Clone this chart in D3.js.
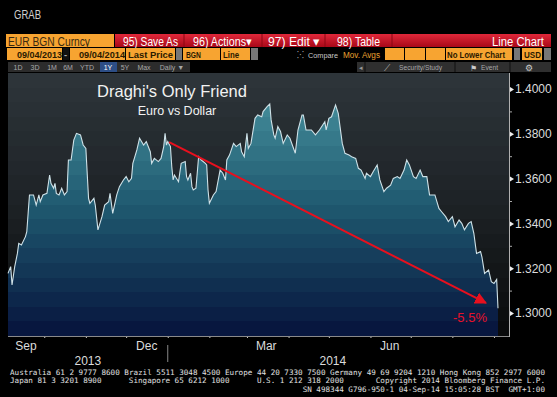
<!DOCTYPE html>
<html>
<head>
<meta charset="utf-8">
<script src="https://cdn.jsdelivr.net/npm/d3@7"></script>
<style>
  body { margin: 0; background: #000; }
  svg { display: block; font-family: "Liberation Sans", Arial, sans-serif; }
  .mono { font-family: "DejaVu Sans Mono", "Liberation Mono", monospace; }
</style>
</head>
<body>
<div id="chart"></div>
<script>
// EUR/USD (BGN)
const dates = [
  "2013-09-04","2013-09-06","2013-09-07","2013-09-09","2013-09-11","2013-09-12","2013-09-14","2013-09-17",
  "2013-09-18","2013-09-19","2013-09-20","2013-09-23","2013-09-25","2013-09-27","2013-09-28","2013-09-30",
  "2013-10-03","2013-10-05","2013-10-06","2013-10-08","2013-10-09","2013-10-10","2013-10-12","2013-10-14",
  "2013-10-16","2013-10-18","2013-10-19","2013-10-21","2013-10-23","2013-10-25","2013-10-28","2013-10-30",
  "2013-11-01","2013-11-03","2013-11-04","2013-11-07","2013-11-08","2013-11-10","2013-11-13","2013-11-15",
  "2013-11-18","2013-11-19","2013-11-21","2013-11-24","2013-11-26","2013-11-29","2013-12-01","2013-12-03",
  "2013-12-05","2013-12-06","2013-12-09","2013-12-11","2013-12-14","2013-12-16","2013-12-19","2013-12-20",
  "2013-12-22","2013-12-25","2013-12-27","2013-12-29","2013-12-30","2013-12-31","2014-01-01","2014-01-03",
  "2014-01-04","2014-01-05","2014-01-06","2014-01-09","2014-01-11","2014-01-14","2014-01-15","2014-01-16",
  "2014-01-18","2014-01-19","2014-01-20","2014-01-22","2014-01-24","2014-01-26","2014-01-29","2014-01-30",
  "2014-01-31","2014-02-01","2014-02-04","2014-02-06","2014-02-09","2014-02-11","2014-02-13","2014-02-14",
  "2014-02-16","2014-02-19","2014-02-21","2014-02-24","2014-02-25","2014-02-27","2014-03-01","2014-03-02",
  "2014-03-04","2014-03-07","2014-03-09","2014-03-12","2014-03-13","2014-03-16","2014-03-18","2014-03-19",
  "2014-03-21","2014-03-22","2014-03-24","2014-03-26","2014-03-28","2014-03-31","2014-04-02","2014-04-06",
  "2014-04-08","2014-04-11","2014-04-12","2014-04-14","2014-04-18","2014-04-21","2014-04-24","2014-04-28",
  "2014-04-29","2014-05-01","2014-05-03","2014-05-06","2014-05-08","2014-05-11","2014-05-13","2014-05-16",
  "2014-05-18","2014-05-21","2014-05-23","2014-05-25","2014-05-28","2014-05-29","2014-06-01","2014-06-03",
  "2014-06-06","2014-06-08","2014-06-11","2014-06-13","2014-06-16","2014-06-18","2014-06-21","2014-06-23",
  "2014-06-26","2014-06-28","2014-06-30","2014-07-03","2014-07-05","2014-07-08","2014-07-10","2014-07-13",
  "2014-07-15","2014-07-19","2014-07-22","2014-07-24","2014-07-27","2014-07-29","2014-08-01","2014-08-03",
  "2014-08-06","2014-08-08","2014-08-10","2014-08-13","2014-08-15","2014-08-17","2014-08-19","2014-08-22",
  "2014-08-23","2014-08-25","2014-08-28","2014-08-30","2014-09-01","2014-09-03","2014-09-04"
];
const rates = [
  1.3177,1.3207,1.3125,1.3207,1.3266,1.3311,1.3304,1.3341,
  1.3363,1.3445,1.3527,1.3527,1.3482,1.3527,1.3497,1.3527,
  1.3534,1.3616,1.3579,1.3557,1.3579,1.3534,1.3527,1.3557,
  1.3527,1.3542,1.3683,1.3683,1.3772,1.3802,1.3795,1.3750,
  1.3735,1.3512,1.3490,1.3512,1.3482,1.3371,1.3430,1.3482,
  1.3497,1.3534,1.3445,1.3527,1.3564,1.3594,1.3609,1.3586,
  1.3601,1.3668,1.3728,1.3780,1.3750,1.3765,1.3720,1.3668,
  1.3690,1.3676,1.3690,1.3743,1.3802,1.3750,1.3765,1.3743,
  1.3653,1.3594,1.3616,1.3586,1.3668,1.3676,1.3609,1.3594,
  1.3624,1.3564,1.3549,1.3557,1.3698,1.3683,1.3668,1.3661,
  1.3549,1.3490,1.3527,1.3542,1.3638,1.3624,1.3594,1.3683,
  1.3705,1.3757,1.3743,1.3757,1.3720,1.3698,1.3802,1.3735,
  1.3757,1.3869,1.3884,1.3876,1.3899,1.3921,1.3933,1.3862,
  1.3795,1.3780,1.3832,1.3810,1.3757,1.3795,1.3780,1.3713,
  1.3817,1.3884,1.3884,1.3817,1.3817,1.3795,1.3817,1.3854,
  1.3817,1.3869,1.3876,1.3929,1.3891,1.3757,1.3713,1.3705,
  1.3698,1.3690,1.3646,1.3638,1.3601,1.3624,1.3609,1.3631,
  1.3661,1.3594,1.3542,1.3557,1.3571,1.3601,1.3609,1.3601,
  1.3638,1.3683,1.3661,1.3609,1.3601,1.3638,1.3609,1.3609,
  1.3527,1.3527,1.3467,1.3452,1.3430,1.3408,1.3430,1.3385,
  1.3415,1.3400,1.3371,1.3400,1.3408,1.3356,1.3266,1.3274,
  1.3251,1.3177,1.3192,1.3140,1.3132,1.3150,1.3021
];
const yTicks = [1.30, 1.32, 1.34, 1.36, 1.38, 1.40];
const yMinor = [1.31, 1.33, 1.35, 1.37, 1.39];
const monthLabels = ["2013-09-17", "2013-12-16", "2014-03-15", "2014-06-15"];
const years = [["2013", "2013-09-04", "2014-01-01"], ["2014", "2014-01-01", "2014-09-04"]];
const trendFrom = ["2014-01-02", 1.3763];
const trendTo = ["2014-08-26", 1.3045];
const trendLabel = "-5.5%";

const W = 557, H = 397;
const plotL = 8, plotR = 509, plotT = 73, plotB = 336;
const parse = d3.timeParse("%Y-%m-%d");
const data = dates.map((d, i) => ({ date: parse(d), v: rates[i] }));

const svg = d3.select("#chart").append("svg")
  .attr("width", W).attr("height", H);
svg.append("rect").attr("width", W).attr("height", H).attr("fill", "#000");

// text helper: squeezes the label into the width it has on the terminal
function label(x, y, t, size, fill, len, opts = {}) {
  const el = svg.append("text").attr("x", x).attr("y", y).attr("font-size", size).attr("fill", fill).text(t);
  if (len) el.attr("textLength", len).attr("lengthAdjust", "spacingAndGlyphs");
  if (opts.anchor) el.attr("text-anchor", opts.anchor);
  if (opts.bold) el.attr("font-weight", "bold");
  if (opts.cls) el.attr("class", opts.cls);
  return el;
}

// ---- toolbar ----
label(14, 19, "GRAB", 12, "#d0d0d0", 27);

const defs = svg.append("defs");
const red = defs.append("linearGradient").attr("id", "redbar")
  .attr("x1", 0).attr("y1", 0).attr("x2", 0).attr("y2", 1);
red.append("stop").attr("offset", 0).attr("stop-color", "#e0283a");
red.append("stop").attr("offset", 1).attr("stop-color", "#a80818");

svg.append("rect").attr("x", 6).attr("y", 34).attr("width", 108).attr("height", 13).attr("fill", "#f7a431");
label(8, 45.5, "EUR BGN Curncy", 12.5, "#3a2a10", 82);
svg.append("rect").attr("x", 115).attr("y", 34).attr("width", 436).attr("height", 13).attr("fill", "url(#redbar)");
[184, 262, 325, 392].forEach(x => svg.append("line").attr("x1", x).attr("x2", x).attr("y1", 34).attr("y2", 47)
  .attr("stroke", "#8a0612"));
const redItems = [["95) Save As", 123, 55], ["96) Actions\u25BE", 193, 59], ["97) Edit \u25BE", 268, 52], ["98) Table", 337, 43]];
redItems.forEach(([t, x, w]) => label(x, 45.5, t, 12.5, "#fff", w));
label(492, 45.5, "Line Chart", 12.5, "#fff", 52);

const row2 = [
  [7, 55, "#f7a431", "09/04/2013", 17, 45], [63, 6, "#111", "-", 64, 0], [70, 55, "#f7a431", "09/04/2014", 79, 46],
  [126, 49, "#f7a431", "Last Price", 128, 45], [176, 6, "#777", "", 0, 0], [183, 37, "#f7a431", "BGN", 186, 15],
  [221, 29, "#f7a431", "Line", 223, 16], [251, 7, "#777", "", 0, 0], [385, 19, "#f7a431", "", 0, 0],
  [405, 20, "#f7a431", "", 0, 0], [426, 19, "#f7a431", "", 0, 0], [446, 66, "#f7a431", "No Lower Chart", 447, 58],
  [514, 6, "#777", "", 0, 0], [522, 20, "#f7a431", "USD", 524, 17], [544, 7, "#777", "", 0, 0]
];
row2.forEach(([x, w, c, t, tx, tw]) => {
  svg.append("rect").attr("x", x).attr("y", 48).attr("width", w).attr("height", 12).attr("fill", c);
  if (t) label(tx, 57.5, t, 9.5, c === "#111" ? "#aaa" : "#2a1a00", tw, { bold: true });
});
label(297, 58, "\u2059", 9.5, "#c8c8c8", 7);
label(308, 58, "Compare", 8, "#c8c8c8", 30);
label(343, 58, "Mov. Avgs", 8.5, "#e8a030", 37);

svg.append("rect").attr("x", 8).attr("y", 62).attr("width", 182).attr("height", 10).attr("fill", "#2c2c2c");
const buttons = [["1D", 18], ["3D", 35], ["1M", 52], ["6M", 68], ["YTD", 87], ["1Y", 108], ["5Y", 125], ["Max", 144], ["Daily \u25BC", 172]];
svg.append("rect").attr("x", 100).attr("y", 62).attr("width", 17).attr("height", 10).attr("fill", "#2d4e86");
buttons.forEach(([t, x]) => label(x, 70, t, 7, t === "1Y" ? "#fff" : "#a8a8a8", 0, { anchor: "middle" }));
svg.append("rect").attr("x", 357).attr("y", 62).attr("width", 194).attr("height", 10).attr("fill", "#2f2f2f");
[365, 455, 510].forEach(x => svg.append("line").attr("x1", x).attr("x2", x).attr("y1", 62).attr("y2", 72)
  .attr("stroke", "#111"));
label(361, 70, "\u25C2", 7, "#999", 0, { anchor: "middle" });
label(384, 70.5, "\u27CB", 9, "#bbb");
label(399, 70, "Security/Study", 7, "#a8a8a8", 43);
label(470, 70.5, "\u2691", 8, "#ccc");
label(481, 70, "Event", 7, "#a8a8a8", 17);
label(529, 70.5, "\u2699", 9, "#ccc", 0, { anchor: "middle" });

// ---- scales ----
const x = d3.scaleTime().domain([parse("2013-09-04"), parse("2014-09-04")]).range([plotL, 498]);
const y = d3.scaleLinear().domain([1.30, 1.40]).range([313, 89]);

// banded gradients (absolute y, like the terminal)
function banded(id, colors, n) {
  const g = defs.append("linearGradient").attr("id", id).attr("gradientUnits", "userSpaceOnUse")
    .attr("x1", 0).attr("x2", 0).attr("y1", plotT).attr("y2", plotB);
  const c = d3.scaleLinear().domain(colors.map((_, i) => i / (colors.length - 1))).range(colors);
  for (let i = 0; i < n; i++) {
    const col = c(i / (n - 1));
    g.append("stop").attr("offset", i / n).attr("stop-color", col);
    g.append("stop").attr("offset", (i + 1) / n).attr("stop-color", col);
  }
}
banded("bg", ["#2d3439", "#1d2226", "#0a0b0c"], 18);
banded("fill", ["#4a95a1", "#1f5a70", "#08173f"], 18);

svg.append("rect").attr("x", plotL).attr("y", plotT).attr("width", plotR - plotL).attr("height", plotB - plotT)
  .attr("fill", "url(#bg)");

svg.append("path").datum(data)
  .attr("fill", "url(#fill)")
  .attr("d", d3.area().x(d => x(d.date)).y0(plotB).y1(d => y(d.v)));
svg.append("path").datum(data)
  .attr("fill", "none").attr("stroke", "#cfe2e8").attr("stroke-width", 1.1)
  .attr("d", d3.line().x(d => x(d.date)).y(d => y(d.v)));

// ---- axes ----
const yAxis = svg.append("g").attr("transform", `translate(${plotR},0)`)
  .call(d3.axisRight(y).tickValues(yTicks).tickSize(0).tickPadding(6).tickFormat(d3.format(".4f")));
yAxis.select(".domain").remove();
yAxis.selectAll("text").attr("fill", "#dcdcdc").attr("font-size", 12).attr("font-family", "Liberation Sans, Arial");
yAxis.selectAll(".tick").append("path").attr("d", "M1,-2.5L5,0L1,2.5Z").attr("fill", "#eee");
const yMin = svg.append("g").attr("transform", `translate(${plotR},0)`)
  .call(d3.axisRight(y).tickValues(yMinor).tickSize(3).tickFormat(""));
yMin.select(".domain").remove();
yMin.selectAll("line").attr("stroke", "#aaa");
svg.append("line").attr("x1", plotR + 0.5).attr("x2", plotR + 0.5).attr("y1", plotT).attr("y2", plotB + 1)
  .attr("stroke", "#b0b0b0");

const xAxis = svg.append("g").attr("transform", `translate(0,${plotB})`)
  .call(d3.axisBottom(x).ticks(d3.timeMonth.every(1)).tickSize(2).tickFormat(""));
xAxis.select(".domain").remove();
xAxis.selectAll("line").attr("stroke", "#ccc");
svg.append("line").attr("x1", plotL).attr("x2", plotR).attr("y1", plotB + 0.5).attr("y2", plotB + 0.5)
  .attr("stroke", "#8a8a8a");

const xLab = svg.append("g").attr("transform", `translate(0,${plotB})`)
  .call(d3.axisBottom(x).tickValues(monthLabels.map(parse)).tickSize(0).tickPadding(5)
    .tickFormat(d3.timeFormat("%b")));
xLab.select(".domain").remove();
xLab.selectAll("text").attr("fill", "#dcdcdc").attr("font-size", 12).attr("font-family", "Liberation Sans, Arial");

years.forEach(([t, a, b]) => {
  label((x(parse(a)) + x(parse(b))) / 2, 364.5, t, 12, "#dcdcdc", 0, { anchor: "middle" });
});
svg.append("line").attr("x1", x(parse("2014-01-01"))).attr("x2", x(parse("2014-01-01")))
  .attr("y1", 345).attr("y2", 362).attr("stroke", "#888");

// ---- annotations ----
label(172, 97, "Draghi's Only Friend", 16.5, "#f2f2f2", 0, { anchor: "middle" });
label(177, 115, "Euro vs Dollar", 12.5, "#f2f2f2", 0, { anchor: "middle" });

defs.append("marker").attr("id", "head").attr("viewBox", "0 0 10 10").attr("refX", 9).attr("refY", 5)
  .attr("markerWidth", 6).attr("markerHeight", 6).attr("orient", "auto").attr("markerUnits", "strokeWidth")
  .append("path").attr("d", "M0,0L10,5L0,10Z").attr("fill", "#e8101e");
svg.append("line")
  .attr("x1", x(parse(trendFrom[0]))).attr("y1", y(trendFrom[1]))
  .attr("x2", x(parse(trendTo[0]))).attr("y2", y(trendTo[1]))
  .attr("stroke", "#e8101e").attr("stroke-width", 2).attr("marker-end", "url(#head)");
label(487, 322, trendLabel, 13, "#e8102a", 0, { anchor: "end" });

// ---- footer: fixed-width grid (117 columns), pieces placed by column ----
const colW = 535 / 117;
const footer = [
  [[0, "Australia 61 2 9777 8600"], [25, "Brazil 5511 3048 4500"], [47, "Europe 44 20 7330 7500"],
   [70, "Germany 49 69 9204 1210"], [94, "Hong Kong 852 2977 6000"]],
  [[0, "Japan 81 3 3201 8900"], [26, "Singapore 65 6212 1000"], [54, "U.S. 1 212 318 2000"],
   [80, "Copyright 2014 Bloomberg Finance L.P."]],
  [[64, "SN 498344 G796-950-1 04-Sep-14 15:05:28 BST"], [109, "GMT+1:00"]]
];
footer.forEach((line, i) => {
  line.forEach(([col, t]) => {
    label(10 + col * colW, 374.5 + i * 8.7, t, 7.5, "#e0e0e0", t.length * colW, { cls: "mono" });
  });
});
</script>
</body>
</html>
